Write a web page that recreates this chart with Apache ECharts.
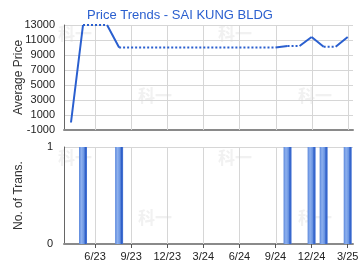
<!DOCTYPE html>
<html>
<head>
<meta charset="utf-8">
<script src="https://cdn.jsdelivr.net/npm/echarts@6/dist/echarts.min.js"></script>
<style>html,body{margin:0;padding:0;background:#fff}#c{width:360px;height:270px}</style>
</head>
<body>
<div id="c"></div>
<script>
const titleText = 'Price Trends - SAI KUNG BLDG';
const priceMonths = ['4/23','5/23','6/23','7/23','8/23','9/23','10/23','11/23','12/23','1/24','2/24','3/24','4/24','5/24','6/24','7/24','8/24','9/24','10/24','11/24','12/24','1/25','2/25','3/25'];
const prices = [0,13000,13000,13000,10000,10000,10000,10000,10000,10000,10000,10000,10000,10000,10000,10000,10000,10000,10200,10200,11400,10100,10100,11400];
const transMonths = ['5/23','8/23','10/24','12/24','1/25','3/25'];
const transCounts = [1,1,1,1,1,1];
const tickLabels = ['6/23','9/23','12/23','3/24','6/24','9/24','12/24','3/25'];
const watermarkText = '科一';

function mIdx(s){const p=s.split('/');return (parseInt(p[1])-23)*12+parseInt(p[0])-1;}
const tickVals = tickLabels.map(mIdx);
const labelMap = {}; tickLabels.forEach(t=>labelMap[mIdx(t)]=t);
const xMin = 2.42, xMax = 26.44;

const transSet = new Set(transMonths);
const solid = [], dotted = [];
for (let i=1;i<priceMonths.length;i++){
  const target = transSet.has(priceMonths[i]) ? solid : dotted;
  target.push([mIdx(priceMonths[i-1]), prices[i-1]]);
  target.push([mIdx(priceMonths[i]), prices[i]]);
  target.push([mIdx(priceMonths[i]), null]);
}
const barData = transMonths.map((m,i)=>[mIdx(m), transCounts[i]]);

const gridCol = '#d6d6d6';
const blue = '#2a5fcf';
const font = 'Liberation Sans, Arial, sans-serif';

const chart = echarts.init(document.getElementById('c'), null, {renderer:'canvas'});
const wmPos = [[58,25],[218,25],[138,87],[298,87],[58,149],[218,149],[138,209],[298,209]];
const wm = wmPos.map(p=>({type:'text', left:p[0], top:p[1], silent:true,
  style:{text:watermarkText, fill:'#f1f1f1', fontSize:17, fontWeight:'bold', fontFamily:'Noto Sans CJK SC'}}));
function vGridSeries(xi, yi){
  return {type:'custom', xAxisIndex:xi, yAxisIndex:yi, silent:true, z:1,
    data: tickVals.map(v=>[v]), encode:{x:0},
    clip:false,
    renderItem:(params, api)=>{
      const cs = params.coordSys;
      const x = Math.round(api.coord([api.value(0), 0])[0]) + 0.5;
      return {type:'line', shape:{x1:x, y1:cs.y, x2:x, y2:cs.y+cs.height},
        style:{stroke:gridCol, lineWidth:1}};
    }};
}
const xCommon = {type:'value', min:xMin, max:xMax, splitLine:{show:false}};
chart.setOption({
  animation:false,
  title:{text:titleText, left:'center', top:4, textStyle:{color:blue, fontSize:13, fontWeight:'normal', fontFamily:font}},
  graphic:{elements:wm},
  grid:[
    {left:64, right:7, top:25, height:105, containLabel:false, outerBoundsMode:'none'},
    {left:64, right:7, top:147, height:97, containLabel:false, outerBoundsMode:'none'}
  ],
  xAxis:[
    Object.assign({}, xCommon, {gridIndex:0,
      axisLine:{show:true, onZero:false, lineStyle:{color:'#8a8a8a', width:2}},
      axisTick:{show:false},
      axisLabel:{show:false}}),
    Object.assign({}, xCommon, {gridIndex:1,
      axisLine:{show:true, onZero:false, lineStyle:{color:'#8a8a8a', width:2}},
      axisTick:{show:true, length:4, customValues:tickVals, lineStyle:{color:'#555'}},
      axisLabel:{show:true, customValues:tickVals, formatter:v=>labelMap[Math.round(v)]||'', color:'#222', fontSize:11, fontFamily:font, margin:7}})
  ],
  yAxis:[
    {type:'value', gridIndex:0, min:-1000, max:13000, interval:2000,
      name:'Average Price', nameLocation:'middle', nameGap:39, nameMoveOverlap:false,
      nameTextStyle:{color:'#333', fontSize:12, fontFamily:font},
      axisLine:{show:true, lineStyle:{color:'#666', width:1}},
      axisTick:{show:false},
      axisLabel:{color:'#222', fontSize:11, fontFamily:font, margin:9, formatter:v=>String(v)},
      splitLine:{show:true, lineStyle:{color:gridCol}}},
    {type:'value', gridIndex:1, min:0, max:1, interval:1,
      name:'No. of Trans.', nameLocation:'middle', nameGap:39, nameMoveOverlap:false,
      nameTextStyle:{color:'#333', fontSize:12, fontFamily:font},
      axisLine:{show:true, lineStyle:{color:'#666', width:1}},
      axisTick:{show:false},
      axisLabel:{color:'#222', fontSize:11, fontFamily:font, margin:11, formatter:v=>String(v)},
      splitLine:{show:true, lineStyle:{color:gridCol}}}
  ],
  series:[
    vGridSeries(0,0),
    vGridSeries(1,1),
    {type:'line', xAxisIndex:0, yAxisIndex:0, data:dotted, showSymbol:false, connectNulls:false,
      lineStyle:{color:blue, width:2, type:[2,2]}, z:3},
    {type:'line', xAxisIndex:0, yAxisIndex:0, data:solid, showSymbol:false, connectNulls:false,
      lineStyle:{color:blue, width:2}, z:4},
    {type:'bar', xAxisIndex:1, yAxisIndex:1, data:barData, barWidth:8, z:3,
      itemStyle:{color:new echarts.graphic.LinearGradient(0,0,1,0,[
        {offset:0, color:'#5b88dc'},{offset:0.3, color:'#8db0ee'},{offset:0.6, color:'#6d97e3'},{offset:0.8, color:'#2f5fc8'},{offset:1, color:'#4a78d6'}])}}
  ]
});
</script>
</body>
</html>
